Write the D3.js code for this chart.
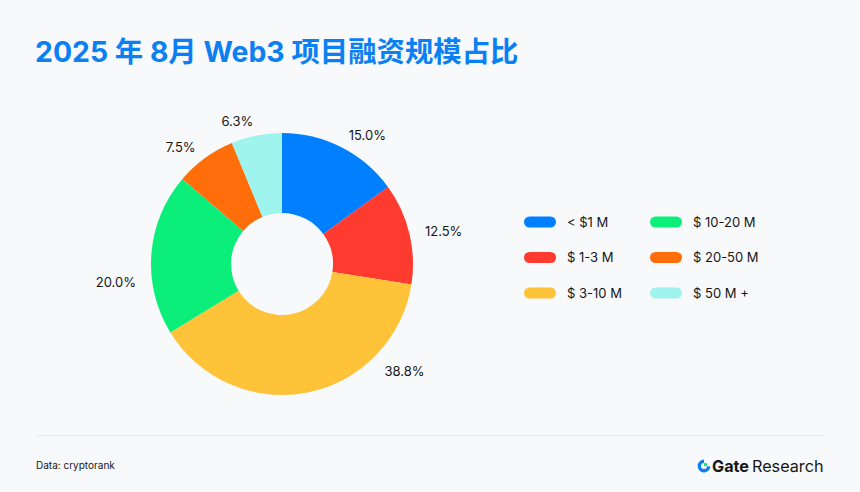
<!DOCTYPE html>
<html>
<head>
<meta charset="utf-8">
<script src="https://cdn.jsdelivr.net/npm/d3@7"></script>
<style>
  html, body { margin: 0; padding: 0; background: #F8F9FB; }
  svg { display: block; }
</style>
</head>
<body>
<svg id="chart" width="860" height="492"></svg>
<script>
// ---- data ----
const categories = ["< $1 M", "$ 1-3 M", "$ 3-10 M", "$ 10-20 M", "$ 20-50 M", "$ 50 M +"];
const counts = [12, 10, 31, 16, 6, 5];
const percentLabels = ["15.0%", "12.5%", "38.8%", "20.0%", "7.5%", "6.3%"];
const colors = ["#0080FF", "#FF3B2F", "#FFC339", "#0BEF7A", "#FF6E0A", "#9FF4EE"];
const legendOrder = [0, 3, 1, 4, 2, 5];

const title = "2025 年 8月 Web3 项目融资规模占比";
const source = "Data: cryptorank";

// ---- layout ----
const W = 860, H = 492;
const cx = 282, cy = 264, rOuter = 131, rInner = 51, rLabel = 147;
// manual label angle adjustments (degrees), as in the reference
const labelAngleAdjust = { 2: -33, 3: -11 };

const svg = d3.select("#chart");
svg.append("rect").attr("width", W).attr("height", H).attr("fill", "#F8F9FB");

svg.append("text")
  .attr("x", 35).attr("y", 62)
  .attr("font-family", "Inter, 'Noto Sans CJK SC', sans-serif")
  .attr("font-weight", 700).attr("font-size", 28.4)
  .attr("fill", "#0A80F2")
  .text(title);

const pie = d3.pie().sort(null).value(d => d);
const arcs = pie(counts);
const arc = d3.arc().innerRadius(rInner).outerRadius(rOuter);

const g = svg.append("g").attr("transform", `translate(${cx},${cy})`);
g.selectAll("path").data(arcs).join("path")
  .attr("d", arc)
  .attr("fill", (d, i) => colors[i]);

g.selectAll("text.lbl").data(arcs).join("text")
  .attr("class", "lbl")
  .each(function(d, i) {
    let a = (d.startAngle + d.endAngle) / 2 + ((labelAngleAdjust[i] || 0) * Math.PI / 180);
    const x = Math.sin(a) * rLabel, y = -Math.cos(a) * rLabel;
    d3.select(this)
      .attr("x", x).attr("y", y)
      .attr("dy", "0.5em")
      .attr("text-anchor", x >= 0 ? "start" : "end");
  })
  .attr("font-family", "Inter, sans-serif")
  .attr("font-size", 13)
  .attr("fill", "#161618")
  .text((d, i) => percentLabels[i]);

// legend
const legend = svg.append("g");
legendOrder.forEach((idx, k) => {
  const col = k % 2, row = Math.floor(k / 2);
  const x = 524 + col * 126, y = 222 + row * 35.5;
  legend.append("rect")
    .attr("x", x).attr("y", y - 5.5).attr("width", 32).attr("height", 11)
    .attr("rx", 5.5).attr("fill", colors[idx]);
  legend.append("text")
    .attr("x", x + 43).attr("y", y).attr("dy", "0.36em")
    .attr("font-family", "Inter, sans-serif").attr("font-size", 13)
    .attr("fill", "#161618")
    .text(categories[idx]);
});

// footer
svg.append("line")
  .attr("x1", 36).attr("x2", 825).attr("y1", 435.5).attr("y2", 435.5)
  .attr("stroke", "#E7E9EC").attr("stroke-width", 1);

svg.append("text")
  .attr("x", 36).attr("y", 469)
  .attr("font-family", "Inter, sans-serif").attr("font-size", 10)
  .attr("fill", "#161618")
  .text(source);

// logo
const logo = svg.append("g").attr("transform", "translate(704,466)");
logo.append("path")
  .attr("d", d3.arc().innerRadius(3).outerRadius(6.4).startAngle(Math.PI * 0.02).endAngle(Math.PI * 1.5)())
  .attr("transform", "rotate(90)")
  .attr("fill", "#0A80F2");
logo.append("rect").attr("x", 0).attr("y", -3).attr("width", 3).attr("height", 3).attr("fill", "#0BEF7A");
const lt = svg.append("text")
  .attr("x", 712).attr("y", 471.5)
  .attr("font-family", "Inter, sans-serif").attr("font-size", 16.2)
  .attr("fill", "#161618");
lt.append("tspan").attr("font-weight", 700).text("Gate");
lt.append("tspan").attr("dx", 3).attr("font-weight", 400).text("Research");
</script>
</body>
</html>
